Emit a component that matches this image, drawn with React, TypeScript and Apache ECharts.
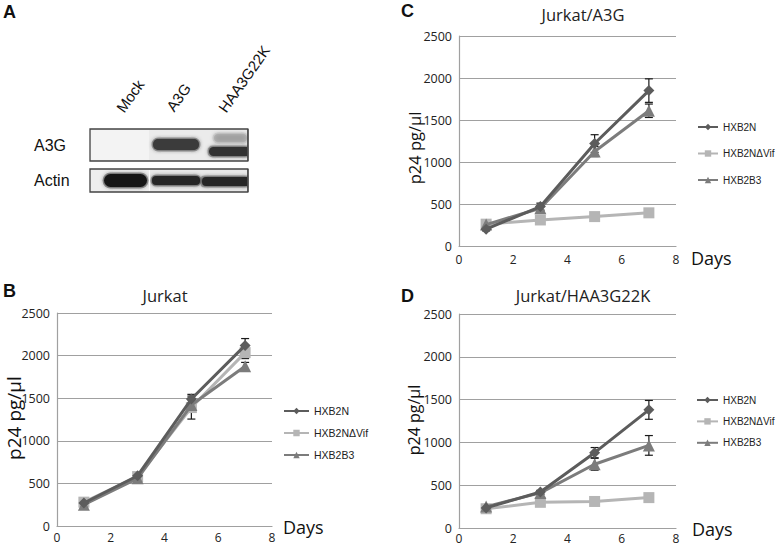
import React, { useEffect, useRef } from "react";
import * as echarts from "echarts";

const days = [1, 3, 5, 7];
const seriesNames = ["HXB2N", "HXB2NΔVif", "HXB2B3"];
const yTicks = [0, 500, 1000, 1500, 2000, 2500];

// Panel B: Jurkat
const bHXB2N = [270, 590, 1490, 2120];
const bVif = [280, 580, 1390, 2035];
const bB3 = [250, 560, 1420, 1875];
const bHXB2NErr = [20, 25, 55, 80];
const bVifErr = [20, 25, 135, 70];
const bB3Err = [15, 20, 60, 45];

// Panel C: Jurkat/A3G
const cHXB2N = [200, 470, 1220, 1850];
const cVif = [260, 310, 350, 395];
const cB3 = [255, 450, 1125, 1610];
const cHXB2NErr = [20, 40, 105, 140];
const cVifErr = [5, 5, 5, 5];
const cB3Err = [15, 30, 60, 80];

// Panel D: Jurkat/HAA3G22K
const dHXB2N = [235, 420, 880, 1380];
const dVif = [225, 300, 310, 355];
const dB3 = [250, 410, 745, 965];
const dHXB2NErr = [15, 20, 60, 110];
const dVifErr = [5, 5, 5, 5];
const dB3Err = [15, 20, 70, 115];

const titles = ["Jurkat", "Jurkat/A3G", "Jurkat/HAA3G22K"];
const laneLabels = ["Mock", "A3G", "HAA3G22K"];
const blotRows = ["A3G", "Actin"];

const COLORS = ["#5c5c5c", "#b5b5b5", "#7c7c7c"];
const SYMBOLS = ["diamond", "rect", "triangle"];
const SYMSIZE = [11, 11, 12];
const AXIS_FONT = "'Open Sans', sans-serif";
const LEG_FONT = "'Liberation Sans', Arial, sans-serif";

export default function App() {
  const ref = useRef<HTMLDivElement>(null);
  useEffect(() => {
    if (!ref.current) return;
    const chart = echarts.init(ref.current, null, { renderer: "svg" });

    const grids = [
      { left: 57, top: 313, width: 215, height: 213 },
      { left: 459, top: 36, width: 217, height: 210 },
      { left: 459, top: 314, width: 217, height: 214 },
    ];
    const xMargins = [5, 7, 4];
    const panels = [
      { vals: [bHXB2N, bVif, bB3], errs: [bHXB2NErr, bVifErr, bB3Err] },
      { vals: [cHXB2N, cVif, cB3], errs: [cHXB2NErr, cVifErr, cB3Err] },
      { vals: [dHXB2N, dVif, dB3], errs: [dHXB2NErr, dVifErr, dB3Err] },
    ];

    const xAxes = grids.map((_, i) => ({
      type: "value",
      gridIndex: i,
      min: 0,
      max: 8,
      interval: 2,
      axisLine: { show: true, lineStyle: { color: "#a0a0a0", width: 1.2 } },
      axisTick: { show: false },
      splitLine: { show: false },
      axisLabel: {
        showMinLabel: true,
        showMaxLabel: true,
        color: "#222",
        fontFamily: AXIS_FONT,
        fontSize: 12,
        margin: xMargins[i],
        formatter: (v: number) => String(v),
      },
    }));
    const yAxes = grids.map((_, i) => ({
      type: "value",
      gridIndex: i,
      min: yTicks[0],
      max: yTicks[yTicks.length - 1],
      interval: 500,
      axisLine: { show: true, lineStyle: { color: "#a0a0a0", width: 1.2 } },
      axisTick: { show: false },
      splitLine: { show: true, lineStyle: { color: "#a0a0a0", width: 1.2 } },
      axisLabel: {
        showMinLabel: true,
        showMaxLabel: true,
        color: "#222",
        fontFamily: AXIS_FONT,
        fontSize: 12.5,
        margin: 7,
        formatter: (v: number) => String(v),
      },
    }));

    const series: any[] = [];
    panels.forEach((p, gi) => {
      p.vals.forEach((arr, si) => {
        const errs = p.errs[si];
        series.push({
          type: "custom",
          name: "err" + gi + "_" + si,
          xAxisIndex: gi,
          yAxisIndex: gi,
          z: 1,
          data: days.map((d, k) => [d, arr[k] - errs[k], arr[k] + errs[k]]),
          encode: { x: 0, y: [1, 2] },
          renderItem: (params: any, api: any) => {
            const x = api.value(0);
            const lo = api.coord([x, api.value(1)]);
            const hi = api.coord([x, api.value(2)]);
            const hw = 4;
            const st = { stroke: "#1a1a1a", lineWidth: 1.2 };
            return {
              type: "group",
              children: [
                { type: "line", shape: { x1: lo[0], y1: lo[1], x2: hi[0], y2: hi[1] }, style: st },
                { type: "line", shape: { x1: lo[0] - hw, y1: lo[1], x2: lo[0] + hw, y2: lo[1] }, style: st },
                { type: "line", shape: { x1: hi[0] - hw, y1: hi[1], x2: hi[0] + hw, y2: hi[1] }, style: st },
              ],
            };
          },
        });
      });
      p.vals.forEach((arr, si) => {
        series.push({
          type: "line",
          name: seriesNames[si],
          xAxisIndex: gi,
          yAxisIndex: gi,
          data: days.map((d, k) => [d, arr[k]]),
          symbol: SYMBOLS[si],
          symbolSize: SYMSIZE[si],
          showSymbol: true,
          lineStyle: { color: COLORS[si], width: 3 },
          itemStyle: { color: COLORS[si] },
          z: 2 + (si === 1 ? 0 : si === 2 ? 1 : 2),
        });
      });
    });

    const legendBase = {
      orient: "vertical",
      data: seriesNames,
      itemWidth: 25,
      itemHeight: 8,
      padding: 0,
      selectedMode: false,
      textStyle: { fontFamily: LEG_FONT, fontSize: 10.5, lineHeight: 12, color: "#222" },
    };
    const smallText = { fontFamily: LEG_FONT, fontSize: 10, lineHeight: 12, color: "#222" };
    const legends = [
      { ...legendBase, left: 283, top: 405, itemGap: 10 },
      { ...legendBase, left: 697, top: 121, itemGap: 14.5, itemWidth: 20, textStyle: smallText },
      { ...legendBase, left: 696, top: 394, itemGap: 9.4, itemWidth: 21, textStyle: smallText },
    ];

    const titleOpts = [
      { text: titles[0], left: 165, top: 287 },
      { text: titles[1], left: 583, top: 6 },
      { text: titles[2], left: 583, top: 287 },
    ].map((t) => ({
      ...t,
      textAlign: "center",
      padding: 0,
      textStyle: { fontFamily: AXIS_FONT, fontSize: 16.5, fontWeight: "normal", color: "#222" },
    }));

    const txt = (text: string, x: number, y: number, font: string, extra: any = {}) => ({
      type: "text",
      x,
      y,
      ...extra,
      style: {
        text,
        font,
        fill: "#111",
        align: extra.align || "left",
        textAlign: extra.align || "left",
        verticalAlign: extra.vAlign || "middle",
        textVerticalAlign: extra.vAlign || "middle",
      },
    });

    const band = (x: number, y: number, w: number, h: number, fill: string, r: any = 5, opacity = 1) => [
      {
        type: "rect",
        shape: { x: x - 1.5, y: y - 1.5, width: w + 3, height: h + 3, r: typeof r === "number" ? r + 1.5 : r },
        style: { fill, opacity: opacity * 0.35 },
        z: 9,
      },
      {
        type: "rect",
        shape: { x, y, width: w, height: h, r },
        style: { fill, opacity, shadowBlur: 4, shadowColor: "rgba(40,40,40,0.8)" },
        z: 10,
      },
    ];

    const graphic: any[] = [
      txt("A", 3, 12, "bold 18px 'Liberation Sans', Arial"),
      txt("B", 3, 291, "bold 18px 'Liberation Sans', Arial"),
      txt("C", 401, 11, "bold 18px 'Liberation Sans', Arial"),
      txt("D", 401, 296, "bold 18px 'Liberation Sans', Arial"),
      // y-axis names
      { ...txt("p24 pg/µl", 14, 418, `19px ${AXIS_FONT}`, { align: "center", rotation: Math.PI / 2 }) },
      { ...txt("p24 pg/µl", 414, 148, `16.5px ${AXIS_FONT}`, { align: "center", rotation: Math.PI / 2 }) },
      { ...txt("p24 pg/µl", 414, 420, `16px ${AXIS_FONT}`, { align: "center", rotation: Math.PI / 2 }) },
      // Days
      txt("Days", 283, 527, `18px ${AXIS_FONT}`),
      txt("Days", 691, 258, `18px ${AXIS_FONT}`),
      txt("Days", 692, 529, `18px ${AXIS_FONT}`),
      // blot boxes
      { type: "rect", shape: { x: 90, y: 129, width: 158, height: 32 }, style: { fill: "#ebebeb", stroke: "#444", lineWidth: 1.3 }, z: 5 },
      { type: "rect", shape: { x: 91, y: 130, width: 58, height: 30 }, style: { fill: "#f3f3f3" }, z: 6 },
      { type: "rect", shape: { x: 90, y: 169, width: 158, height: 23 }, style: { fill: "#e8e8e8", stroke: "#444", lineWidth: 1.3 }, z: 5 },
      { type: "rect", shape: { x: 91, y: 170, width: 58, height: 21 }, style: { fill: "#eeeeee" }, z: 6 },
      // bands
      ...band(153, 139, 46, 11, "#3a3a3a", 5),
      ...band(214, 134, 33, 8, "#999", 4, 0.5),
      ...band(209, 147, 38, 9, "#333", [5, 0, 0, 5]),
      ...band(104, 174, 43, 13, "#181818", 7),
      ...band(152, 176, 48, 9, "#262626", 4),
      ...band(202, 177, 45, 9, "#282828", [4, 0, 0, 4]),
      { type: "line", shape: { x1: 149.5, y1: 170, x2: 149.5, y2: 191 }, style: { stroke: "#fafafa", lineWidth: 1 }, z: 12 },
      { type: "rect", shape: { x: 248.7, y: 128, width: 6, height: 66 }, style: { fill: "#fff" }, z: 11 },
      { type: "line", shape: { x1: 248, y1: 129, x2: 248, y2: 161 }, style: { stroke: "#444", lineWidth: 1.3 }, z: 12 },
      { type: "line", shape: { x1: 248, y1: 169, x2: 248, y2: 192 }, style: { stroke: "#444", lineWidth: 1.3 }, z: 12 },
      // row labels
      txt(blotRows[0], 34, 145, "16px 'Liberation Sans', Arial"),
      txt(blotRows[1], 34, 180, "16px 'Liberation Sans', Arial"),
      // lane labels
      { ...txt(laneLabels[0], 126, 115, "15px 'Liberation Sans', Arial", { vAlign: "bottom", rotation: 0.96 }) },
      { ...txt(laneLabels[1], 176, 114, "15px 'Liberation Sans', Arial", { vAlign: "bottom", rotation: 0.96 }) },
      { ...txt(laneLabels[2], 228, 115, "15px 'Liberation Sans', Arial", { vAlign: "bottom", rotation: 0.96 }) },
    ];

    chart.setOption({
      animation: false,
      backgroundColor: "#ffffff",
      grid: grids.map((g) => ({ ...g, containLabel: false })),
      xAxis: xAxes,
      yAxis: yAxes,
      legend: legends,
      title: titleOpts,
      series,
      graphic,
    });
    return () => chart.dispose();
  }, []);

  return (
    <div
      ref={ref}
      style={{ position: "absolute", left: 0, top: 0, width: 778, height: 547, background: "#fff" }}
    />
  );
}
